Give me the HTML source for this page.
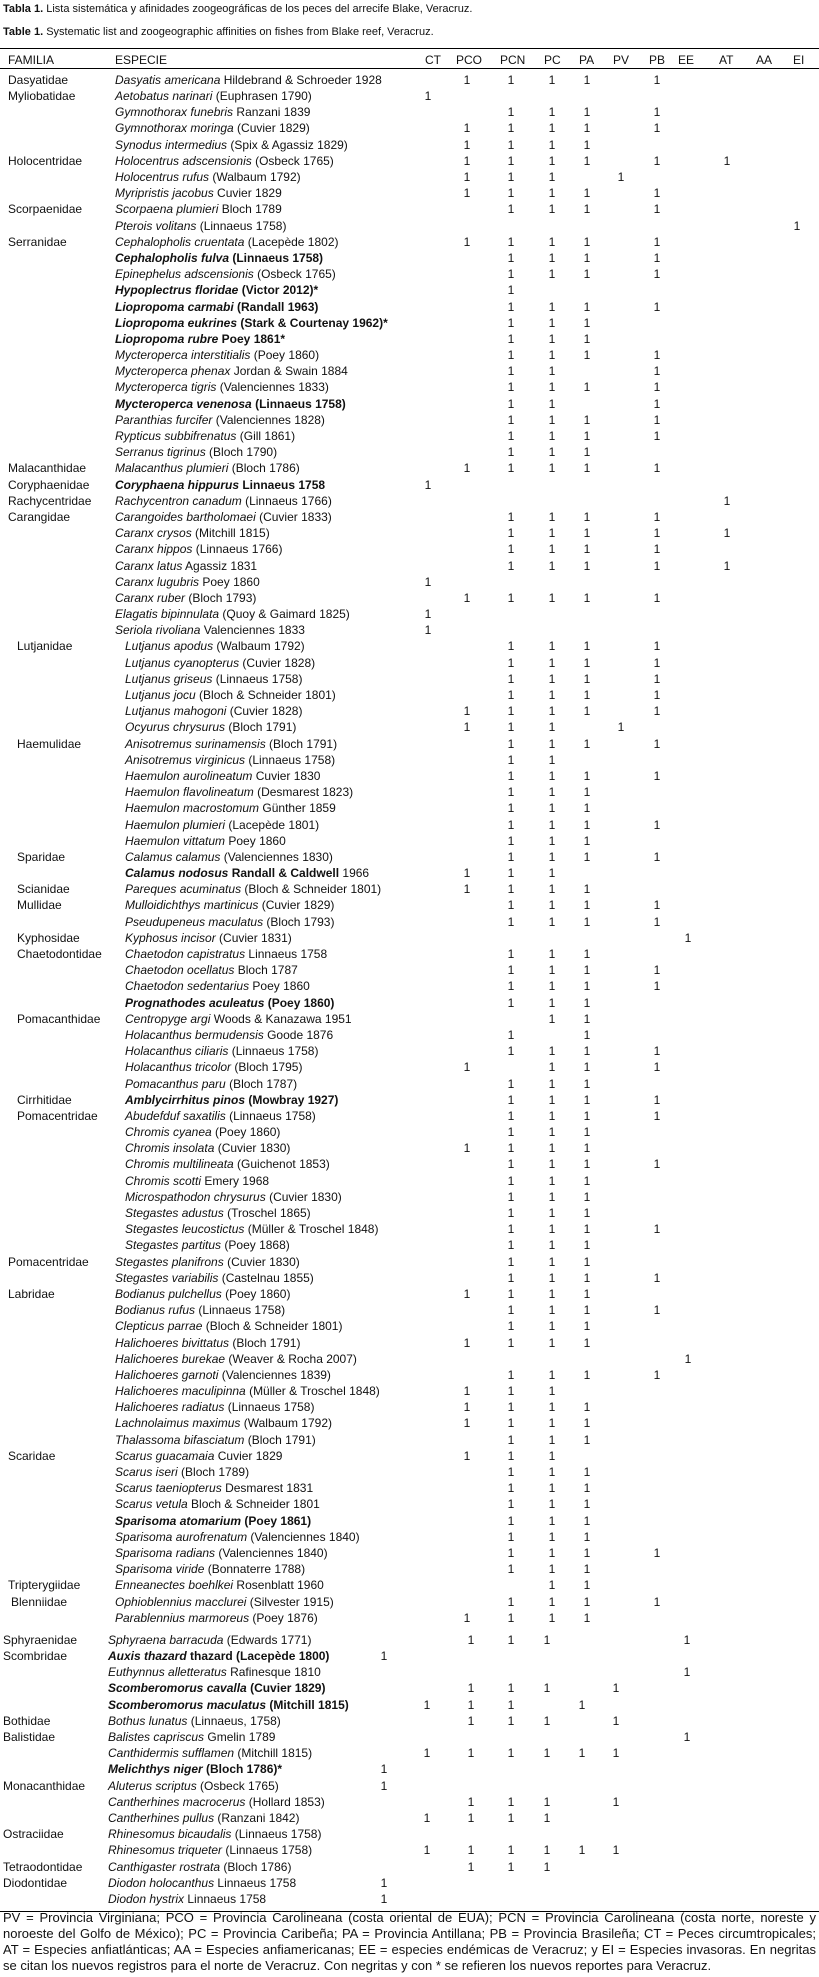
<!DOCTYPE html>
<html><head><meta charset="utf-8">
<style>
html,body{margin:0;padding:0;background:#fff;}
body{width:819px;height:1977px;position:relative;overflow:hidden;font-family:"Liberation Sans",sans-serif;color:#111;font-size:12px;}
.t{position:absolute;left:3px;font-size:11px;white-space:nowrap;}
.hr{position:absolute;left:0;width:819px;border-top:1px solid #000;}
.sec{position:absolute;left:0;width:819px;}
.r{position:relative;height:16.2px;line-height:16.2px;white-space:nowrap;}
.f{position:absolute;left:8px;}
.fi{position:absolute;left:17px;}
.s{position:absolute;left:115px;}
.si{position:absolute;left:125px;}
.n{position:absolute;width:20px;text-align:center;}
.a{left:418px}.b{left:457px}.c{left:501px}.d{left:542px}.e{left:577px}.v{left:611px}.g{left:647px}.h{left:678px}.k{left:717px}.l{left:755px}.m{left:787px}
.bot .f{left:3px}.bot .s{left:108px}
.bot .a{left:374px}.bot .b{left:417px}.bot .c{left:461px}.bot .d{left:501px}.bot .e{left:537px}.bot .v{left:572px}.bot .g{left:606px}.bot .h{left:677px}
.B{font-weight:bold}
.hd{position:absolute;top:52px;height:16px;line-height:16px;white-space:nowrap;}
.fn{position:absolute;left:3px;width:813px;top:1910px;font-size:13px;line-height:16px;}
.fn div{white-space:nowrap;text-align:justify;text-align-last:justify;}
.fn div.last{text-align:left;text-align-last:left;}
</style></head><body>
<div class="t" style="top:3px"><b>Tabla 1.</b> Lista sistemática y afinidades zoogeográficas de los peces del arrecife Blake, Veracruz.</div>
<div class="t" style="top:26px"><b>Table 1.</b> Systematic list and zoogeographic affinities on fishes from Blake reef, Veracruz.</div>
<div class="hr" style="top:48px"></div>
<div class="hd" style="left:8px">FAMILIA</div>
<div class="hd" style="left:115px">ESPECIE</div>
<div class="hd" style="left:425px">CT</div>
<div class="hd" style="left:456px">PCO</div>
<div class="hd" style="left:500px">PCN</div>
<div class="hd" style="left:544px">PC</div>
<div class="hd" style="left:579px">PA</div>
<div class="hd" style="left:613px">PV</div>
<div class="hd" style="left:649px">PB</div>
<div class="hd" style="left:678px">EE</div>
<div class="hd" style="left:719px">AT</div>
<div class="hd" style="left:756px">AA</div>
<div class="hd" style="left:793px">EI</div>
<div class="hr" style="top:68px"></div>

<div class="sec" style="top:71.9px">
<div class="r"><span class="f">Dasyatidae</span><span class="s"><i>Dasyatis americana</i> Hildebrand &amp; Schroeder 1928</span><span class="n b">1</span><span class="n c">1</span><span class="n d">1</span><span class="n e">1</span><span class="n g">1</span></div>
<div class="r"><span class="f">Myliobatidae</span><span class="s"><i>Aetobatus narinari</i> (Euphrasen 1790)</span><span class="n a">1</span></div>
<div class="r"><span class="s"><i>Gymnothorax funebris</i> Ranzani 1839</span><span class="n c">1</span><span class="n d">1</span><span class="n e">1</span><span class="n g">1</span></div>
<div class="r"><span class="s"><i>Gymnothorax moringa</i> (Cuvier 1829)</span><span class="n b">1</span><span class="n c">1</span><span class="n d">1</span><span class="n e">1</span><span class="n g">1</span></div>
<div class="r"><span class="s"><i>Synodus intermedius</i> (Spix &amp; Agassiz 1829)</span><span class="n b">1</span><span class="n c">1</span><span class="n d">1</span><span class="n e">1</span></div>
<div class="r"><span class="f">Holocentridae</span><span class="s"><i>Holocentrus adscensionis</i> (Osbeck 1765)</span><span class="n b">1</span><span class="n c">1</span><span class="n d">1</span><span class="n e">1</span><span class="n g">1</span><span class="n k">1</span></div>
<div class="r"><span class="s"><i>Holocentrus rufus</i> (Walbaum 1792)</span><span class="n b">1</span><span class="n c">1</span><span class="n d">1</span><span class="n v">1</span></div>
<div class="r"><span class="s"><i>Myripristis jacobus</i> Cuvier 1829</span><span class="n b">1</span><span class="n c">1</span><span class="n d">1</span><span class="n e">1</span><span class="n g">1</span></div>
<div class="r"><span class="f">Scorpaenidae</span><span class="s"><i>Scorpaena plumieri</i> Bloch 1789</span><span class="n c">1</span><span class="n d">1</span><span class="n e">1</span><span class="n g">1</span></div>
<div class="r"><span class="s"><i>Pterois volitans</i> (Linnaeus 1758)</span><span class="n m">1</span></div>
<div class="r"><span class="f">Serranidae</span><span class="s"><i>Cephalopholis cruentata</i> (Lacepède 1802)</span><span class="n b">1</span><span class="n c">1</span><span class="n d">1</span><span class="n e">1</span><span class="n g">1</span></div>
<div class="r"><span class="s B"><i>Cephalopholis fulva</i> (Linnaeus 1758)</span><span class="n c">1</span><span class="n d">1</span><span class="n e">1</span><span class="n g">1</span></div>
<div class="r"><span class="s"><i>Epinephelus adscensionis</i> (Osbeck 1765)</span><span class="n c">1</span><span class="n d">1</span><span class="n e">1</span><span class="n g">1</span></div>
<div class="r"><span class="s B"><i>Hypoplectrus floridae</i> (Victor 2012)*</span><span class="n c">1</span></div>
<div class="r"><span class="s B"><i>Liopropoma carmabi</i> (Randall 1963)</span><span class="n c">1</span><span class="n d">1</span><span class="n e">1</span><span class="n g">1</span></div>
<div class="r"><span class="s B"><i>Liopropoma eukrines</i> (Stark &amp; Courtenay 1962)*</span><span class="n c">1</span><span class="n d">1</span><span class="n e">1</span></div>
<div class="r"><span class="s B"><i>Liopropoma rubre</i> Poey 1861*</span><span class="n c">1</span><span class="n d">1</span><span class="n e">1</span></div>
<div class="r"><span class="s"><i>Mycteroperca interstitialis</i> (Poey 1860)</span><span class="n c">1</span><span class="n d">1</span><span class="n e">1</span><span class="n g">1</span></div>
<div class="r"><span class="s"><i>Mycteroperca phenax</i> Jordan &amp; Swain 1884</span><span class="n c">1</span><span class="n d">1</span><span class="n g">1</span></div>
<div class="r"><span class="s"><i>Mycteroperca tigris</i> (Valenciennes 1833)</span><span class="n c">1</span><span class="n d">1</span><span class="n e">1</span><span class="n g">1</span></div>
<div class="r"><span class="s B"><i>Mycteroperca venenosa</i> (Linnaeus 1758)</span><span class="n c">1</span><span class="n d">1</span><span class="n g">1</span></div>
<div class="r"><span class="s"><i>Paranthias furcifer</i> (Valenciennes 1828)</span><span class="n c">1</span><span class="n d">1</span><span class="n e">1</span><span class="n g">1</span></div>
<div class="r"><span class="s"><i>Rypticus subbifrenatus</i> (Gill 1861)</span><span class="n c">1</span><span class="n d">1</span><span class="n e">1</span><span class="n g">1</span></div>
<div class="r"><span class="s"><i>Serranus tigrinus</i> (Bloch 1790)</span><span class="n c">1</span><span class="n d">1</span><span class="n e">1</span></div>
<div class="r"><span class="f">Malacanthidae</span><span class="s"><i>Malacanthus plumieri</i> (Bloch 1786)</span><span class="n b">1</span><span class="n c">1</span><span class="n d">1</span><span class="n e">1</span><span class="n g">1</span></div>
<div class="r"><span class="f">Coryphaenidae</span><span class="s B"><i>Coryphaena hippurus</i> Linnaeus 1758</span><span class="n a">1</span></div>
<div class="r"><span class="f">Rachycentridae</span><span class="s"><i>Rachycentron canadum</i> (Linnaeus 1766)</span><span class="n k">1</span></div>
<div class="r"><span class="f">Carangidae</span><span class="s"><i>Carangoides bartholomaei</i> (Cuvier 1833)</span><span class="n c">1</span><span class="n d">1</span><span class="n e">1</span><span class="n g">1</span></div>
<div class="r"><span class="s"><i>Caranx crysos</i> (Mitchill 1815)</span><span class="n c">1</span><span class="n d">1</span><span class="n e">1</span><span class="n g">1</span><span class="n k">1</span></div>
<div class="r"><span class="s"><i>Caranx hippos</i> (Linnaeus 1766)</span><span class="n c">1</span><span class="n d">1</span><span class="n e">1</span><span class="n g">1</span></div>
<div class="r"><span class="s"><i>Caranx latus</i> Agassiz 1831</span><span class="n c">1</span><span class="n d">1</span><span class="n e">1</span><span class="n g">1</span><span class="n k">1</span></div>
<div class="r"><span class="s"><i>Caranx lugubris</i> Poey 1860</span><span class="n a">1</span></div>
<div class="r"><span class="s"><i>Caranx ruber</i> (Bloch 1793)</span><span class="n b">1</span><span class="n c">1</span><span class="n d">1</span><span class="n e">1</span><span class="n g">1</span></div>
<div class="r"><span class="s"><i>Elagatis bipinnulata</i> (Quoy &amp; Gaimard 1825)</span><span class="n a">1</span></div>
<div class="r"><span class="s"><i>Seriola rivoliana</i> Valenciennes 1833</span><span class="n a">1</span></div>
<div class="r"><span class="fi">Lutjanidae</span><span class="si"><i>Lutjanus apodus</i> (Walbaum 1792)</span><span class="n c">1</span><span class="n d">1</span><span class="n e">1</span><span class="n g">1</span></div>
<div class="r"><span class="si"><i>Lutjanus cyanopterus</i> (Cuvier 1828)</span><span class="n c">1</span><span class="n d">1</span><span class="n e">1</span><span class="n g">1</span></div>
<div class="r"><span class="si"><i>Lutjanus griseus</i> (Linnaeus 1758)</span><span class="n c">1</span><span class="n d">1</span><span class="n e">1</span><span class="n g">1</span></div>
<div class="r"><span class="si"><i>Lutjanus jocu</i> (Bloch &amp; Schneider 1801)</span><span class="n c">1</span><span class="n d">1</span><span class="n e">1</span><span class="n g">1</span></div>
<div class="r"><span class="si"><i>Lutjanus mahogoni</i> (Cuvier 1828)</span><span class="n b">1</span><span class="n c">1</span><span class="n d">1</span><span class="n e">1</span><span class="n g">1</span></div>
<div class="r"><span class="si"><i>Ocyurus chrysurus</i> (Bloch 1791)</span><span class="n b">1</span><span class="n c">1</span><span class="n d">1</span><span class="n v">1</span></div>
<div class="r"><span class="fi">Haemulidae</span><span class="si"><i>Anisotremus surinamensis</i> (Bloch 1791)</span><span class="n c">1</span><span class="n d">1</span><span class="n e">1</span><span class="n g">1</span></div>
<div class="r"><span class="si"><i>Anisotremus virginicus</i> (Linnaeus 1758)</span><span class="n c">1</span><span class="n d">1</span></div>
<div class="r"><span class="si"><i>Haemulon aurolineatum</i> Cuvier 1830</span><span class="n c">1</span><span class="n d">1</span><span class="n e">1</span><span class="n g">1</span></div>
<div class="r"><span class="si"><i>Haemulon flavolineatum</i> (Desmarest 1823)</span><span class="n c">1</span><span class="n d">1</span><span class="n e">1</span></div>
<div class="r"><span class="si"><i>Haemulon macrostomum</i> Günther 1859</span><span class="n c">1</span><span class="n d">1</span><span class="n e">1</span></div>
<div class="r"><span class="si"><i>Haemulon plumieri</i> (Lacepède 1801)</span><span class="n c">1</span><span class="n d">1</span><span class="n e">1</span><span class="n g">1</span></div>
<div class="r"><span class="si"><i>Haemulon vittatum</i> Poey 1860</span><span class="n c">1</span><span class="n d">1</span><span class="n e">1</span></div>
<div class="r"><span class="fi">Sparidae</span><span class="si"><i>Calamus calamus</i> (Valenciennes 1830)</span><span class="n c">1</span><span class="n d">1</span><span class="n e">1</span><span class="n g">1</span></div>
<div class="r"><span class="si"><b><i>Calamus nodosus</i> Randall &amp; Caldwell</b> 1966</span><span class="n b">1</span><span class="n c">1</span><span class="n d">1</span></div>
<div class="r"><span class="fi">Scianidae</span><span class="si"><i>Pareques acuminatus</i> (Bloch &amp; Schneider 1801)</span><span class="n b">1</span><span class="n c">1</span><span class="n d">1</span><span class="n e">1</span></div>
<div class="r"><span class="fi">Mullidae</span><span class="si"><i>Mulloidichthys martinicus</i> (Cuvier 1829)</span><span class="n c">1</span><span class="n d">1</span><span class="n e">1</span><span class="n g">1</span></div>
<div class="r"><span class="si"><i>Pseudupeneus maculatus</i> (Bloch 1793)</span><span class="n c">1</span><span class="n d">1</span><span class="n e">1</span><span class="n g">1</span></div>
<div class="r"><span class="fi">Kyphosidae</span><span class="si"><i>Kyphosus incisor</i> (Cuvier 1831)</span><span class="n h">1</span></div>
<div class="r"><span class="fi">Chaetodontidae</span><span class="si"><i>Chaetodon capistratus</i> Linnaeus 1758</span><span class="n c">1</span><span class="n d">1</span><span class="n e">1</span></div>
<div class="r"><span class="si"><i>Chaetodon ocellatus</i> Bloch 1787</span><span class="n c">1</span><span class="n d">1</span><span class="n e">1</span><span class="n g">1</span></div>
<div class="r"><span class="si"><i>Chaetodon sedentarius</i> Poey 1860</span><span class="n c">1</span><span class="n d">1</span><span class="n e">1</span><span class="n g">1</span></div>
<div class="r"><span class="si B"><i>Prognathodes aculeatus</i> (Poey 1860)</span><span class="n c">1</span><span class="n d">1</span><span class="n e">1</span></div>
<div class="r"><span class="fi">Pomacanthidae</span><span class="si"><i>Centropyge argi</i> Woods &amp; Kanazawa 1951</span><span class="n d">1</span><span class="n e">1</span></div>
<div class="r"><span class="si"><i>Holacanthus bermudensis</i> Goode 1876</span><span class="n c">1</span><span class="n e">1</span></div>
<div class="r"><span class="si"><i>Holacanthus ciliaris</i> (Linnaeus 1758)</span><span class="n c">1</span><span class="n d">1</span><span class="n e">1</span><span class="n g">1</span></div>
<div class="r"><span class="si"><i>Holacanthus tricolor</i> (Bloch 1795)</span><span class="n b">1</span><span class="n d">1</span><span class="n e">1</span><span class="n g">1</span></div>
<div class="r"><span class="si"><i>Pomacanthus paru</i> (Bloch 1787)</span><span class="n c">1</span><span class="n d">1</span><span class="n e">1</span></div>
<div class="r"><span class="fi">Cirrhitidae</span><span class="si B"><i>Amblycirrhitus pinos</i> (Mowbray 1927)</span><span class="n c">1</span><span class="n d">1</span><span class="n e">1</span><span class="n g">1</span></div>
<div class="r"><span class="fi">Pomacentridae</span><span class="si"><i>Abudefduf saxatilis</i> (Linnaeus 1758)</span><span class="n c">1</span><span class="n d">1</span><span class="n e">1</span><span class="n g">1</span></div>
<div class="r"><span class="si"><i>Chromis cyanea</i> (Poey 1860)</span><span class="n c">1</span><span class="n d">1</span><span class="n e">1</span></div>
<div class="r"><span class="si"><i>Chromis insolata</i> (Cuvier 1830)</span><span class="n b">1</span><span class="n c">1</span><span class="n d">1</span><span class="n e">1</span></div>
<div class="r"><span class="si"><i>Chromis multilineata</i> (Guichenot 1853)</span><span class="n c">1</span><span class="n d">1</span><span class="n e">1</span><span class="n g">1</span></div>
<div class="r"><span class="si"><i>Chromis scotti</i> Emery 1968</span><span class="n c">1</span><span class="n d">1</span><span class="n e">1</span></div>
<div class="r"><span class="si"><i>Microspathodon chrysurus</i> (Cuvier 1830)</span><span class="n c">1</span><span class="n d">1</span><span class="n e">1</span></div>
<div class="r"><span class="si"><i>Stegastes adustus</i> (Troschel 1865)</span><span class="n c">1</span><span class="n d">1</span><span class="n e">1</span></div>
<div class="r"><span class="si"><i>Stegastes leucostictus</i> (Müller &amp; Troschel 1848)</span><span class="n c">1</span><span class="n d">1</span><span class="n e">1</span><span class="n g">1</span></div>
<div class="r"><span class="si"><i>Stegastes partitus</i> (Poey 1868)</span><span class="n c">1</span><span class="n d">1</span><span class="n e">1</span></div>
<div class="r"><span class="f">Pomacentridae</span><span class="s"><i>Stegastes planifrons</i> (Cuvier 1830)</span><span class="n c">1</span><span class="n d">1</span><span class="n e">1</span></div>
<div class="r"><span class="s"><i>Stegastes variabilis</i> (Castelnau 1855)</span><span class="n c">1</span><span class="n d">1</span><span class="n e">1</span><span class="n g">1</span></div>
<div class="r"><span class="f">Labridae</span><span class="s"><i>Bodianus pulchellus</i> (Poey 1860)</span><span class="n b">1</span><span class="n c">1</span><span class="n d">1</span><span class="n e">1</span></div>
<div class="r"><span class="s"><i>Bodianus rufus</i> (Linnaeus 1758)</span><span class="n c">1</span><span class="n d">1</span><span class="n e">1</span><span class="n g">1</span></div>
<div class="r"><span class="s"><i>Clepticus parrae</i> (Bloch &amp; Schneider 1801)</span><span class="n c">1</span><span class="n d">1</span><span class="n e">1</span></div>
<div class="r"><span class="s"><i>Halichoeres bivittatus</i> (Bloch 1791)</span><span class="n b">1</span><span class="n c">1</span><span class="n d">1</span><span class="n e">1</span></div>
<div class="r"><span class="s"><i>Halichoeres burekae</i> (Weaver &amp; Rocha 2007)</span><span class="n h">1</span></div>
<div class="r"><span class="s"><i>Halichoeres garnoti</i> (Valenciennes 1839)</span><span class="n c">1</span><span class="n d">1</span><span class="n e">1</span><span class="n g">1</span></div>
<div class="r"><span class="s"><i>Halichoeres maculipinna</i> (Müller &amp; Troschel 1848)</span><span class="n b">1</span><span class="n c">1</span><span class="n d">1</span></div>
<div class="r"><span class="s"><i>Halichoeres radiatus</i> (Linnaeus 1758)</span><span class="n b">1</span><span class="n c">1</span><span class="n d">1</span><span class="n e">1</span></div>
<div class="r"><span class="s"><i>Lachnolaimus maximus</i> (Walbaum 1792)</span><span class="n b">1</span><span class="n c">1</span><span class="n d">1</span><span class="n e">1</span></div>
<div class="r"><span class="s"><i>Thalassoma bifasciatum</i> (Bloch 1791)</span><span class="n c">1</span><span class="n d">1</span><span class="n e">1</span></div>
<div class="r"><span class="f">Scaridae</span><span class="s"><i>Scarus guacamaia</i> Cuvier 1829</span><span class="n b">1</span><span class="n c">1</span><span class="n d">1</span></div>
<div class="r"><span class="s"><i>Scarus iseri</i> (Bloch 1789)</span><span class="n c">1</span><span class="n d">1</span><span class="n e">1</span></div>
<div class="r"><span class="s"><i>Scarus taeniopterus</i> Desmarest 1831</span><span class="n c">1</span><span class="n d">1</span><span class="n e">1</span></div>
<div class="r"><span class="s"><i>Scarus vetula</i> Bloch &amp; Schneider 1801</span><span class="n c">1</span><span class="n d">1</span><span class="n e">1</span></div>
<div class="r"><span class="s B"><i>Sparisoma atomarium</i> (Poey 1861)</span><span class="n c">1</span><span class="n d">1</span><span class="n e">1</span></div>
<div class="r"><span class="s"><i>Sparisoma aurofrenatum</i> (Valenciennes 1840)</span><span class="n c">1</span><span class="n d">1</span><span class="n e">1</span></div>
<div class="r"><span class="s"><i>Sparisoma radians</i> (Valenciennes 1840)</span><span class="n c">1</span><span class="n d">1</span><span class="n e">1</span><span class="n g">1</span></div>
<div class="r"><span class="s"><i>Sparisoma viride</i> (Bonnaterre 1788)</span><span class="n c">1</span><span class="n d">1</span><span class="n e">1</span></div>
<div class="r"><span class="f">Tripterygiidae</span><span class="s"><i>Enneanectes boehlkei</i> Rosenblatt 1960</span><span class="n d">1</span><span class="n e">1</span></div>
<div class="r"><span class="f" style="left:11px">Blenniidae</span><span class="s"><i>Ophioblennius macclurei</i> (Silvester 1915)</span><span class="n c">1</span><span class="n d">1</span><span class="n e">1</span><span class="n g">1</span></div>
<div class="r"><span class="s"><i>Parablennius marmoreus</i> (Poey 1876)</span><span class="n b">1</span><span class="n c">1</span><span class="n d">1</span><span class="n e">1</span></div>
</div>

<div class="sec bot" style="top:1631.9px">
<div class="r"><span class="f">Sphyraenidae</span><span class="s"><i>Sphyraena barracuda</i> (Edwards 1771)</span><span class="n c">1</span><span class="n d">1</span><span class="n e">1</span><span class="n h">1</span></div>
<div class="r"><span class="f">Scombridae</span><span class="s B"><i>Auxis thazard</i> thazard (Lacepède 1800)</span><span class="n a">1</span></div>
<div class="r"><span class="s"><i>Euthynnus alletteratus</i> Rafinesque 1810</span><span class="n h">1</span></div>
<div class="r"><span class="s B"><i>Scomberomorus cavalla</i> (Cuvier 1829)</span><span class="n c">1</span><span class="n d">1</span><span class="n e">1</span><span class="n g">1</span></div>
<div class="r"><span class="s B"><i>Scomberomorus maculatus</i> (Mitchill 1815)</span><span class="n b">1</span><span class="n c">1</span><span class="n d">1</span><span class="n v">1</span></div>
<div class="r"><span class="f">Bothidae</span><span class="s"><i>Bothus lunatus</i> (Linnaeus, 1758)</span><span class="n c">1</span><span class="n d">1</span><span class="n e">1</span><span class="n g">1</span></div>
<div class="r"><span class="f">Balistidae</span><span class="s"><i>Balistes capriscus</i> Gmelin 1789</span><span class="n h">1</span></div>
<div class="r"><span class="s"><i>Canthidermis sufflamen</i> (Mitchill 1815)</span><span class="n b">1</span><span class="n c">1</span><span class="n d">1</span><span class="n e">1</span><span class="n v">1</span><span class="n g">1</span></div>
<div class="r"><span class="s B"><i>Melichthys niger</i> (Bloch 1786)*</span><span class="n a">1</span></div>
<div class="r"><span class="f">Monacanthidae</span><span class="s"><i>Aluterus scriptus</i> (Osbeck 1765)</span><span class="n a">1</span></div>
<div class="r"><span class="s"><i>Cantherhines macrocerus</i> (Hollard 1853)</span><span class="n c">1</span><span class="n d">1</span><span class="n e">1</span><span class="n g">1</span></div>
<div class="r"><span class="s"><i>Cantherhines pullus</i> (Ranzani 1842)</span><span class="n b">1</span><span class="n c">1</span><span class="n d">1</span><span class="n e">1</span></div>
<div class="r"><span class="f">Ostraciidae</span><span class="s"><i>Rhinesomus bicaudalis</i> (Linnaeus 1758)</span></div>
<div class="r"><span class="s"><i>Rhinesomus triqueter</i> (Linnaeus 1758)</span><span class="n b">1</span><span class="n c">1</span><span class="n d">1</span><span class="n e">1</span><span class="n v">1</span><span class="n g">1</span></div>
<div class="r"><span class="f">Tetraodontidae</span><span class="s"><i>Canthigaster rostrata</i> (Bloch 1786)</span><span class="n c">1</span><span class="n d">1</span><span class="n e">1</span></div>
<div class="r"><span class="f">Diodontidae</span><span class="s"><i>Diodon holocanthus</i> Linnaeus 1758</span><span class="n a">1</span></div>
<div class="r"><span class="s"><i>Diodon hystrix</i> Linnaeus 1758</span><span class="n a">1</span></div>
</div>

<div class="hr" style="top:1911px"></div>
<div class="fn">
<div>PV = Provincia Virginiana; PCO = Provincia Carolineana (costa oriental de EUA); PCN = Provincia Carolineana (costa norte, noreste y</div>
<div>noroeste del Golfo de México); PC = Provincia Caribeña; PA = Provincia Antillana; PB = Provincia Brasileña; CT = Peces circumtropicales;</div>
<div>AT = Especies anfiatlánticas; AA = Especies anfiamericanas; EE = especies endémicas de Veracruz; y EI = Especies invasoras. En negritas</div>
<div class="last">se citan los nuevos registros para el norte de Veracruz. Con negritas y con * se refieren los nuevos reportes para Veracruz.</div>
</div>
</body></html>
